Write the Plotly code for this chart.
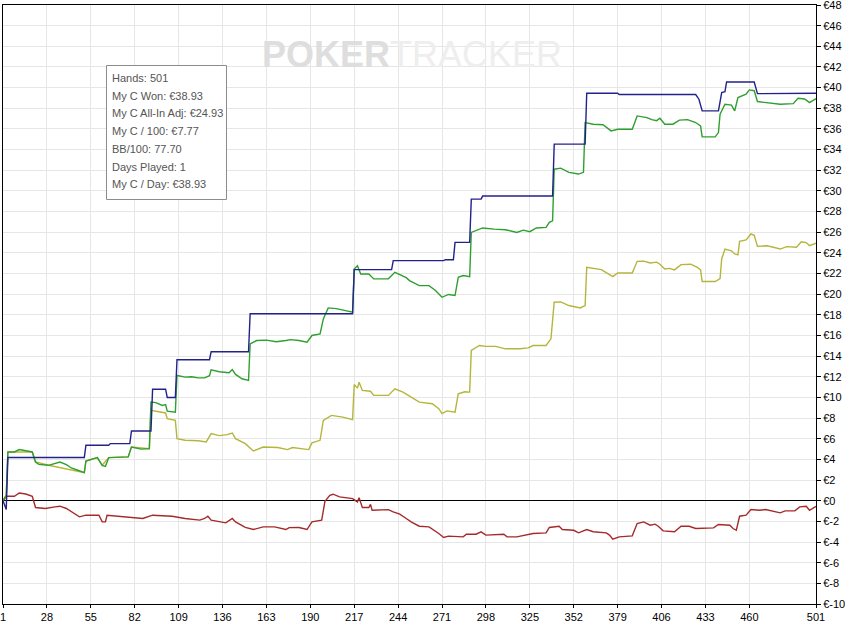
import plotly.graph_objects as go

# ---------------- data ----------------
x_tick_vals = [1, 28, 55, 82, 109, 136, 163, 190, 217, 244, 271, 298, 325, 352, 379, 406, 433, 460, 501]
y_tick_vals = [-10, -8, -6, -4, -2, 0, 2, 4, 6, 8, 10, 12, 14, 16, 18, 20, 22, 24, 26, 28, 30,
               32, 34, 36, 38, 40, 42, 44, 46, 48]
y_tick_text = ["€" + str(v) for v in y_tick_vals]

# Showdown winnings (blue)
blue_hands = [1, 3, 4, 51, 52, 66, 67, 79, 80, 92, 93, 101, 102, 107, 108, 128, 129, 152, 153, 216,
              217, 240, 241, 272, 273, 278, 279, 288, 289, 295, 296, 339, 340, 359, 360, 379, 380, 427,
              429, 431, 441, 443, 445, 446, 463, 465, 501]
blue_vals = [0, -0.85, 4.18, 4.18, 5.37, 5.37, 5.53, 5.53, 6.75, 6.75, 10.8, 10.8, 10.0, 10.0, 13.65,
             13.65, 14.42, 14.42, 18.1, 18.1, 22.38, 22.38, 23.25, 23.25, 23.34, 23.34, 25.02, 25.02,
             29.2, 29.2, 29.5, 29.5, 34.53, 34.53, 39.46, 39.46, 39.33, 39.33, 38.88, 37.75, 37.75,
             39.52, 39.6, 40.55, 40.55, 39.42, 39.45]

# Net won (green)
green_hands = [1, 3, 4, 8, 11, 19, 21, 23, 29, 36, 40, 43, 47, 51, 52, 59, 62, 64, 66, 78, 80, 86, 91,
               92, 95, 99, 101, 102, 107, 108, 113, 117, 121, 125, 128, 129, 134, 140, 142, 144, 148,
               152, 153, 157, 163, 169, 175, 178, 183, 188, 191, 196, 198, 201, 206, 212, 216, 217,
               219, 221, 226, 229, 238, 242, 249, 251, 257, 263, 267, 271, 275, 279, 281, 284, 288,
               289, 296, 303, 310, 317, 321, 325, 329, 335, 337, 339, 340, 344, 349, 355, 358, 359,
               364, 370, 375, 379, 388, 391, 397, 400, 403, 405, 408, 413, 417, 422, 427, 430, 431,
               439, 441, 442, 445, 449, 451, 453, 458, 460, 463, 465, 471, 479, 487, 490, 494, 497, 501]
green_vals = [0, 0.53, 4.72, 4.72, 4.95, 4.72, 3.75, 3.52, 3.43, 3.75, 3.5, 3.17, 2.95, 2.72, 3.85,
              4.17, 3.43, 3.33, 4.17, 4.24, 5.2, 5.0, 5.04, 9.55, 9.5, 9.23, 9.3, 8.68, 8.58, 12.13,
              11.97, 12.0, 11.9, 11.9, 12.1, 12.68, 12.49, 12.39, 12.7, 12.23, 11.81, 11.65, 15.19,
              15.51, 15.55, 15.4, 15.51, 15.6, 15.51, 15.35, 16.0, 16.16, 17.6, 18.67, 18.6, 18.41,
              18.25, 22.44, 22.76, 21.96, 21.96, 21.48, 21.5, 22.12, 21.6, 21.31, 20.83, 20.83, 20.35,
              19.7, 19.97, 19.87, 21.63, 21.8, 21.7, 25.98, 26.41, 26.3, 26.24, 25.98, 26.2, 26.05,
              26.41, 26.47, 26.95, 27.1, 32.1, 32.2, 31.79, 31.63, 31.8, 36.62, 36.46, 36.4, 35.81,
              35.97, 35.97, 37.26, 37.1, 36.9, 36.8, 37.04, 36.46, 36.46, 36.85, 36.9, 36.62, 36.3,
              35.23, 35.23, 35.65, 37.43, 38.39, 38.3, 37.75, 39.04, 39.36, 39.78, 39.7, 38.65, 38.55,
              38.39, 38.45, 38.97, 38.9, 38.55, 38.93]

# All-in adjusted (yellow)
yellow_hands = [1, 3, 4, 19, 21, 29, 51, 52, 59, 62, 66, 78, 80, 91, 92, 99, 101, 102, 107, 108, 113,
                121, 126, 129, 134, 139, 142, 144, 150, 155, 161, 170, 176, 179, 183, 189, 191, 196,
                198, 203, 210, 216, 217, 219, 220, 222, 227, 229, 238, 242, 247, 251, 257, 265, 269,
                271, 274, 279, 281, 285, 288, 289, 294, 298, 304, 310, 319, 324, 327, 335, 338, 340,
                344, 349, 356, 359, 360, 369, 373, 376, 379, 388, 391, 395, 399, 403, 405, 408, 411,
                414, 418, 424, 428, 430, 431, 439, 442, 443, 445, 449, 451, 453, 454, 458, 461, 463,
                465, 471, 479, 483, 489, 492, 495, 497, 501]
yellow_vals = [0, 0.53, 4.72, 4.72, 3.75, 3.43, 2.72, 3.85, 4.17, 3.43, 4.17, 4.24, 5.2, 5.04, 8.75,
               8.58, 8.5, 7.94, 7.78, 6.01, 5.85, 5.8, 5.69, 6.5, 6.3, 6.4, 6.56, 6.01, 5.53, 4.82,
               5.2, 5.15, 4.95, 5.15, 5.05, 4.95, 5.6, 5.85, 7.78, 8.26, 8.1, 7.85, 11.26, 10.9, 11.48,
               10.68, 10.6, 10.2, 10.2, 10.84, 10.52, 10.1, 9.55, 9.39, 8.91, 8.43, 8.7, 8.58, 10.36,
               10.55, 10.52, 14.55, 15.03, 14.95, 14.95, 14.71, 14.71, 14.8, 15.03, 15.03, 15.68,
               19.22, 19.25, 18.9, 18.67, 18.9, 22.6, 22.38, 21.96, 21.7, 22.05, 22.05, 23.18, 23.2,
               23.02, 23.1, 22.9, 22.44, 22.5, 22.35, 22.86, 22.9, 22.6, 22.35, 21.22, 21.22, 21.5,
               23.41, 24.37, 24.2, 23.9, 23.8, 25.12, 25.25, 25.83, 25.7, 24.63, 24.69, 24.37, 24.6,
               24.55, 25.08, 25.0, 24.7, 24.93]

# Non-showdown winnings (red)
red_hands = [1, 3, 8, 11, 15, 19, 21, 27, 33, 36, 40, 44, 48, 52, 60, 62, 64, 65, 79, 87, 93, 105,
             113, 122, 125, 127, 129, 138, 142, 144, 150, 155, 161, 168, 175, 177, 183, 188, 191, 197,
             199, 202, 204, 208, 216, 219, 220, 222, 226, 227, 228, 238, 241, 245, 249, 252, 257, 263,
             269, 272, 275, 284, 286, 292, 295, 298, 309, 311, 317, 323, 327, 335, 337, 343, 345, 352,
             355, 360, 364, 372, 374, 376, 380, 388, 391, 395, 399, 402, 404, 407, 411, 414, 418, 423,
             427, 438, 441, 448, 450, 452, 454, 458, 461, 466, 470, 479, 482, 488, 491, 495, 497, 501]
red_vals = [0, 0.43, 0.43, 0.75, 0.65, 0.43, -0.66, -0.75, -0.6, -0.53, -0.75, -1.18, -1.56, -1.4,
            -1.4, -2.05, -2.05, -1.4, -1.56, -1.72, -1.4, -1.5, -1.72, -1.88, -1.72, -1.5, -1.88,
            -2.14, -1.72, -2.05, -2.59, -2.79, -2.53, -2.53, -2.79, -2.6, -2.59, -2.79, -2.05, -1.88,
            -0.05, 0.53, 0.63, 0.37, 0.21, -0.11, 0.3, -0.66, -0.66, -0.35, -0.92, -0.86, -1.08, -1.3,
            -1.72, -2.05, -2.47, -2.53, -3.17, -3.56, -3.43, -3.5, -3.24, -3.24, -3.01, -3.33, -3.24,
            -3.5, -3.5, -3.33, -3.17, -3.11, -2.59, -2.47, -2.79, -2.86, -3.11, -2.79, -3.0, -3.11,
            -3.33, -3.72, -3.5, -3.4, -2.21, -2.05, -2.37, -2.27, -2.47, -2.92, -2.95, -3.0, -2.47,
            -2.47, -2.69, -2.63, -2.3, -2.37, -2.69, -2.86, -1.5, -1.4, -0.85, -0.92, -0.85, -1.17,
            -0.98, -0.98, -0.6, -0.53, -0.92, -0.55]

stats_lines = ["Hands: 501", "My C Won: €38.93", "My C All-In Adj: €24.93", "My C / 100: €7.77",
               "BB/100: 77.70", "Days Played: 1", "My C / Day: €38.93"]

# ---------------- figure ----------------
W, H = 845, 625
ML, MR, MT, MB = 3, 29, 5, 21
PW, PH = W - ML - MR, H - MT - MB


def px(x):
    return (x - ML) / PW


def py(y):
    return (H - MB - y) / PH


FONT = "Liberation Sans, Arial, sans-serif"

fig = go.Figure()
series = [
    (yellow_hands, yellow_vals, "#b5b53c"),
    (red_hands, red_vals, "#a52a2a"),
    (green_hands, green_vals, "#2f9f2f"),
    (blue_hands, blue_vals, "#22228a"),
]
for hx, vy, col in series:
    fig.add_trace(go.Scatter(x=hx, y=vy, mode="lines", line=dict(color=col, width=1.4),
                             hoverinfo="skip", showlegend=False))

shapes = [dict(type="rect", xref="paper", yref="paper",
               x0=px(106.5), x1=px(226.5), y0=py(199.5), y1=py(65.5),
               line=dict(color="#8c8c8c", width=1), fillcolor="white", layer="above")]

annotations = []
for i, t in enumerate(stats_lines):
    annotations.append(dict(xref="paper", yref="paper", x=px(110), y=py(78 + 17.7 * i),
                            xanchor="left", yanchor="middle", showarrow=False, text=t,
                            font=dict(family=FONT, size=11, color="#555555")))

annotations.append(dict(xref="paper", yref="paper", x=px(412), y=py(54), xanchor="center",
                        yanchor="middle", showarrow=False,
                        text="<b><span style='color:#dedede'>POKER</span></b>"
                             "<span style='color:#eeeeee'>TRACKER</span>",
                        font=dict(family="Liberation Sans, Arial", size=36, color="#e6e6e6")))

fig.update_layout(
    width=W, height=H,
    margin=dict(l=ML, r=MR, t=MT, b=MB, pad=0, autoexpand=False),
    paper_bgcolor="white", plot_bgcolor="white",
    shapes=shapes, annotations=annotations,
    showlegend=False,
    xaxis=dict(range=[1, 501], tickvals=x_tick_vals, ticktext=[str(v) for v in x_tick_vals],
               automargin=False, ticklabeloverflow="allow",
               showgrid=True, gridcolor="#e6e6e6", gridwidth=1, zeroline=False,
               showline=True, linecolor="black", linewidth=1, mirror=True,
               ticks="outside", ticklen=3, tickcolor="black",
               tickfont=dict(family=FONT, size=11, color="black")),
    yaxis=dict(range=[-10, 48], side="right", tickvals=y_tick_vals, ticktext=y_tick_text,
               automargin=False, ticklabeloverflow="allow",
               showgrid=True, gridcolor="#e6e6e6", gridwidth=1,
               zeroline=True, zerolinecolor="black", zerolinewidth=1.3,
               showline=True, linecolor="black", linewidth=1, mirror=True,
               ticks="outside", ticklen=4, tickcolor="black",
               tickfont=dict(family=FONT, size=11, color="black")),
)

fig.write_html("out.html", config={"displayModeBar": False},
               post_script="document.body.style.margin='0';document.body.style.overflow='hidden';")
